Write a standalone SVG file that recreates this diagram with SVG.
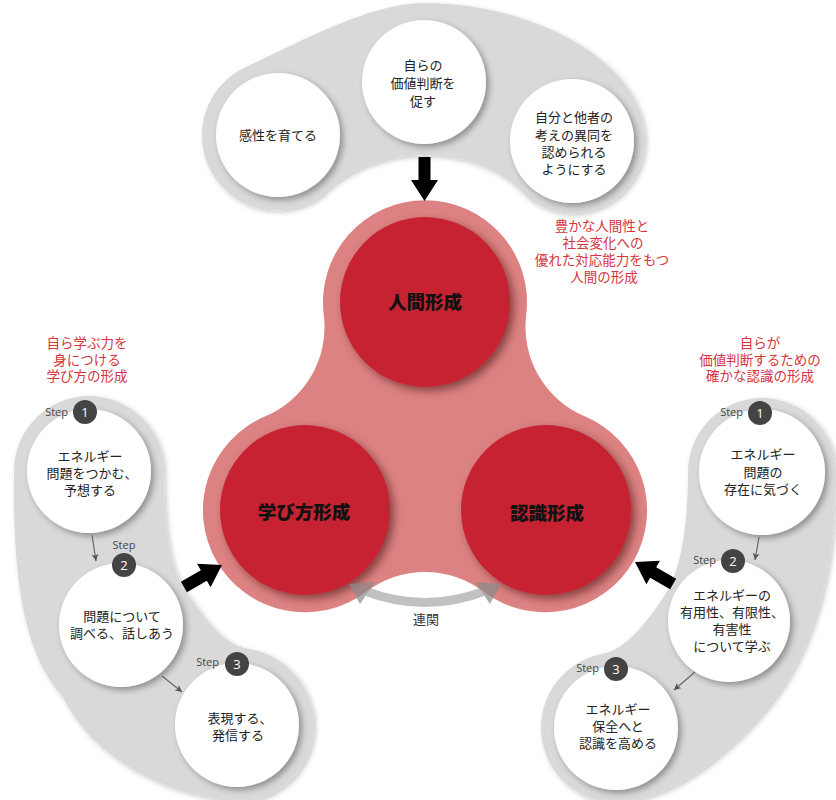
<svg xmlns="http://www.w3.org/2000/svg" xmlns:xlink="http://www.w3.org/1999/xlink" width="836" height="800" viewBox="0 0 836 800">
<style>
.band{fill:#d9d9d9;filter:url(#shB)}
.wc{fill:#fff;filter:url(#sh)}
.rc{fill:#c62130;filter:url(#shR)}
.t{font-family:"Liberation Sans","Noto Sans CJK JP",sans-serif;font-size:13px;fill:#222;text-anchor:middle;dominant-baseline:central}
.big{font-family:"Liberation Sans","Noto Sans CJK JP",sans-serif;font-size:18.5px;font-weight:900;fill:#111;text-anchor:middle;dominant-baseline:central}
.red{font-family:"Liberation Sans","Noto Sans CJK JP",sans-serif;font-size:13.5px;fill:#d63440;text-anchor:middle;dominant-baseline:central}
.step{font-family:"Open Sans","DejaVu Sans",sans-serif;font-size:11px;fill:#444;dominant-baseline:central}
.bd{fill:#444}
.num{font-family:"Open Sans","DejaVu Sans",sans-serif;font-size:13px;fill:#fff;text-anchor:middle;dominant-baseline:central}
.sa{stroke:#666;stroke-width:1.2;fill:none;marker-end:url(#mh)}
</style>
<defs>
<filter id="sh" x="-20%" y="-20%" width="150%" height="150%"><feDropShadow dx="3" dy="3" stdDeviation="3" flood-color="#000" flood-opacity="0.35"/></filter>
<filter id="shR" x="-20%" y="-20%" width="150%" height="150%"><feDropShadow dx="4" dy="4" stdDeviation="4" flood-color="#300" flood-opacity="0.5"/></filter>
<filter id="shB" x="-10%" y="-10%" width="130%" height="130%"><feDropShadow dx="2" dy="2" stdDeviation="2.5" flood-color="#000" flood-opacity="0.22"/></filter>
<marker id="mh" markerWidth="8" markerHeight="8" refX="7" refY="3.5" orient="auto" markerUnits="userSpaceOnUse"><path d="M0,0 L7,3.5 L0,7 L2,3.5 Z" fill="#555"/></marker>
<path id="bigArrow" d="M -44 -6 L -21 -6 L -21 -13.5 L 0 0 L -21 13.5 L -21 6 L -44 6 Z" fill="#000"/>
</defs>

<g id="bands">
<path id="band-top" class="band" d="M 246 67 C 300 42 370 3 424 3 C 530 3 645 60 645 140 A 73 73 0 0 1 530 200 C 505 172 470 155 424 155 C 380 155 345 172 321 196 A 75 75 0 1 1 246 67 Z"/>
<path id="band-left" class="band" d="M 14 471 A 75 75 0 0 1 164 471 C 164 540 172 575 192 600 C 210 625 225 645 250.4 649.2 A 77 77 0 1 1 210.7 797.4 C 160 790 90 755 63 697 C 30 660 12 600 14 471 Z"/>
<path id="band-right" class="band" d="M 688 472 A 74 74 0 0 1 836 472 C 836 580 810 660 763 713 C 725 757 680 790 640.7 798.5 A 75 75 0 1 1 602 654 C 625 650 645 625 665 595 C 680 572 688 530 688 472 Z"/>
</g>

<g id="blob">
<path d="M 323.8 315 A 102 102 0 1 1 526.2 315 A 97 97 0 0 0 584.7 416.3 A 102 102 0 1 1 483.5 591.6 A 97 97 0 0 0 366.5 591.6 A 102 102 0 1 1 265.3 416.3 A 97 97 0 0 0 323.8 315 Z" fill="#dd8282"/>
</g>

<g id="node-kansei"><circle class="wc" cx="278" cy="135" r="62"/><text class="t" x="278" y="135">感性を育てる</text></g>
<g id="node-kachi"><circle class="wc" cx="424" cy="82" r="62"/><text class="t" x="423" y="65">自らの<tspan x="423" dy="18">価値判断を</tspan><tspan x="423" dy="18">促す</tspan></text></g>
<g id="node-ido"><circle class="wc" cx="572" cy="141" r="62"/><text class="t" x="574" y="117">自分と他者の<tspan x="574" dy="17.5">考えの異同を</tspan><tspan x="574" dy="17">認められる</tspan><tspan x="574" dy="17">ようにする</tspan></text></g>

<g id="node-L1"><circle class="wc" cx="89" cy="471" r="62"/><text class="t" x="90" y="456">エネルギー<tspan x="92" dy="17">問題をつかむ、</tspan><tspan x="90" dy="17">予想する</tspan></text><circle class="bd" cx="85" cy="412" r="12"/><text class="num" x="85" y="412">1</text><text class="step" x="68" y="411" text-anchor="end">Step</text></g>
<g id="node-L2"><circle class="wc" cx="121" cy="625" r="62"/><text class="t" x="122" y="616">問題について<tspan x="122" dy="17">調べる、話しあう</tspan></text><circle class="bd" cx="124" cy="565" r="12"/><text class="num" x="124" y="565">2</text><text class="step" x="124" y="544" text-anchor="middle">Step</text></g>
<g id="node-L3"><circle class="wc" cx="237" cy="725" r="62"/><text class="t" x="240" y="718">表現する、<tspan x="238" dy="17">発信する</tspan></text><circle class="bd" cx="237" cy="664" r="12"/><text class="num" x="237" y="664">3</text><text class="step" x="219" y="661" text-anchor="end">Step</text></g>

<g id="node-R1"><circle class="wc" cx="762" cy="472" r="63"/><text class="t" x="763" y="454">エネルギー<tspan x="763" dy="17.5">問題の</tspan><tspan x="763" dy="17">存在に気づく</tspan></text><circle class="bd" cx="760" cy="413" r="12"/><text class="num" x="760" y="413">1</text><text class="step" x="743" y="411" text-anchor="end">Step</text></g>
<g id="node-R2"><circle class="wc" cx="729" cy="621" r="61"/><text class="t" x="732" y="595">エネルギーの<tspan x="732" dy="17">有用性、有限性、</tspan><tspan x="732" dy="17">有害性</tspan><tspan x="732" dy="17">について学ぶ</tspan></text><circle class="bd" cx="733" cy="561" r="12"/><text class="num" x="733" y="561">2</text><text class="step" x="716" y="559" text-anchor="end">Step</text></g>
<g id="node-R3"><circle class="wc" cx="616" cy="728" r="62"/><text class="t" x="618" y="709">エネルギー<tspan x="618" dy="17">保全へと</tspan><tspan x="618" dy="17">認識を高める</tspan></text><circle class="bd" cx="616" cy="669" r="12"/><text class="num" x="616" y="669">3</text><text class="step" x="599" y="667" text-anchor="end">Step</text></g>

<g id="node-ningen"><circle class="rc" cx="425" cy="302" r="85"/><text class="big" x="425" y="302">人間形成</text></g>
<g id="node-manabi"><circle class="rc" cx="305" cy="510" r="85"/><text class="big" x="304" y="512">学び方形成</text></g>
<g id="node-ninshiki"><circle class="rc" cx="546" cy="510" r="85"/><text class="big" x="547" y="513">認識形成</text></g>

<g id="connectors">
<use xlink:href="#bigArrow" href="#bigArrow" transform="translate(424.5 201) rotate(90)"/>
<use xlink:href="#bigArrow" href="#bigArrow" transform="translate(222 565) rotate(-30)"/>
<use xlink:href="#bigArrow" href="#bigArrow" transform="translate(635 562) rotate(-150)"/>
<line class="sa" x1="92" y1="535" x2="96" y2="561"/>
<line class="sa" x1="162" y1="676" x2="182" y2="692"/>
<line class="sa" x1="759" y1="537" x2="755" y2="560"/>
<line class="sa" x1="695" y1="672" x2="674" y2="690"/>
<g id="renkan" opacity="0.7">
<path d="M 365 591 Q 425 614 485 591" fill="none" stroke="#a8a8a8" stroke-width="9"/>
<polygon points="349,584 375,582 360,604" fill="#8a8a8a"/>
<polygon points="501,584 475,582 490,604" fill="#8a8a8a"/>
</g>
<text class="t" x="426" y="619" style="fill:#333">連関</text>
</g>

<g id="labels">
<text class="red" x="87" y="343">自ら学ぶ力を<tspan x="87" dy="16.5">身につける</tspan><tspan x="87" dy="16.5">学び方の形成</tspan></text>
<text class="red" x="760" y="343">自らが<tspan x="760" dy="16.5">価値判断するための</tspan><tspan x="760" dy="16.5">確かな認識の形成</tspan></text>
<text class="red" x="602" y="226">豊かな人間性と<tspan x="603" dy="17">社会変化への</tspan><tspan x="602" dy="17">優れた対応能力をもつ</tspan><tspan x="604" dy="17">人間の形成</tspan></text>
</g>
</svg>
